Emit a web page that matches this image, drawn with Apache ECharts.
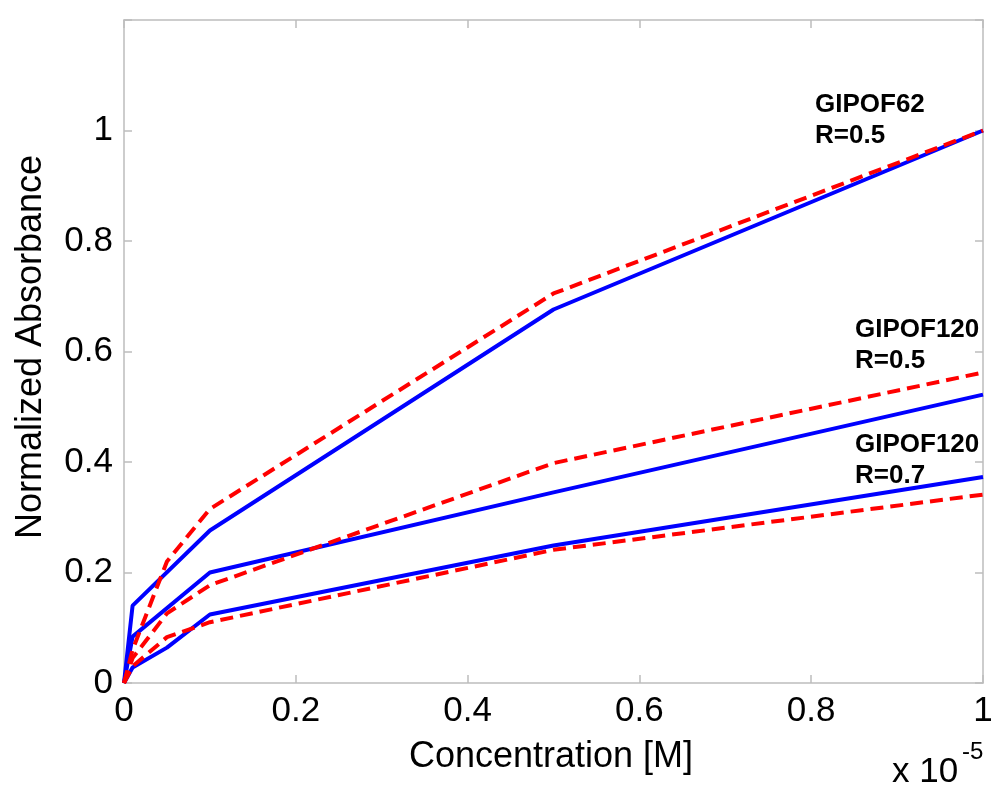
<!DOCTYPE html>
<html><head><meta charset="utf-8">
<script src="https://cdn.jsdelivr.net/npm/echarts@6/dist/echarts.min.js"></script>
<style>html,body{margin:0;padding:0;background:#fff}#c{width:1000px;height:790px}</style>
</head><body><div id="c"></div>
<script>
// Concentration in units of 1e-5 M
const blue62 = [[0,0],[0.01,0.14],[0.1,0.276],[0.5,0.676],[1,1.0]];
const red62 = [[0,0],[0.01,0.06],[0.05,0.22],[0.1,0.315],[0.5,0.705],[1,1.0]];
const blue120a = [[0,0],[0.01,0.084],[0.1,0.2],[0.5,0.345],[1,0.522]];
const red120a = [[0,0],[0.01,0.045],[0.05,0.126],[0.1,0.177],[0.5,0.398],[1,0.562]];
const blue120b = [[0,0],[0.01,0.028],[0.05,0.064],[0.1,0.124],[0.5,0.249],[1,0.373]];
const red120b = [[0,0],[0.01,0.03],[0.05,0.083],[0.1,0.11],[0.5,0.241],[1,0.341]];
const xTicks = [0,0.2,0.4,0.6,0.8,1];
const yTicks = [0,0.2,0.4,0.6,0.8,1];
const labels = [
  {text:'GIPOF62\nR=0.5', x:815, y:89},
  {text:'GIPOF120\nR=0.5', x:855, y:314},
  {text:'GIPOF120\nR=0.7', x:855, y:429}
];
const FONT = 'Liberation Sans, Arial, sans-serif';
const chart = echarts.init(document.getElementById('c'));
const solid = (d)=>({type:'line',data:d,symbol:'none',lineStyle:{color:'#0000ff',width:4},itemStyle:{color:'#0000ff'},z:3});
const dashed = (d)=>({type:'line',data:d,symbol:'none',lineStyle:{color:'#ff0000',width:4,type:[13,7]},itemStyle:{color:'#ff0000'},z:4});
const tickFmt = v => (Math.abs(v-Math.round(v))<1e-9? String(Math.round(v)) : String(+v.toFixed(1)));
const axisCommon = () => ({
  min:0, axisLine:{show:true,onZero:false,lineStyle:{color:'#bdbdbd',width:1.5}},
  axisTick:{show:true,inside:true,length:8,lineStyle:{color:'#bdbdbd',width:1.5}},
  splitLine:{show:false}
});
chart.setOption({
  animation:false,
  grid:{left:124,right:17,top:20,bottom:107},
  xAxis:[
    Object.assign({type:'value',max:1,interval:0.2,position:'bottom',
      axisLabel:{fontSize:35,color:'#000',fontFamily:FONT,margin:11,formatter:tickFmt}},axisCommon()),
    Object.assign({type:'value',max:1,interval:0.2,position:'top',axisLabel:{show:false}},axisCommon())
  ],
  yAxis:[
    Object.assign({type:'value',max:1.2,interval:0.2,position:'left',
      axisLabel:{fontSize:35,color:'#000',fontFamily:FONT,margin:11,
        formatter:v=> v>1.05 ? '' : tickFmt(v)}},axisCommon()),
    Object.assign({type:'value',max:1.2,interval:0.2,position:'right',axisLabel:{show:false}},axisCommon())
  ],
  series:[solid(blue62),dashed(red62),solid(blue120a),dashed(red120a),solid(blue120b),dashed(red120b)],
  graphic:[
    {type:'text',x:551,y:757,style:{text:'Concentration [M]',font:'36px '+FONT,fill:'#000',textAlign:'center',textVerticalAlign:'middle'}},
    {type:'text',x:31,y:347,rotation:Math.PI/2,style:{text:'Normalized Absorbance',font:'36px '+FONT,fill:'#000',textAlign:'center',textVerticalAlign:'middle'}},
    {type:'text',x:892,y:772,style:{text:'x 10',font:'35px '+FONT,fill:'#000',textAlign:'left',textVerticalAlign:'middle'}},
    {type:'text',x:962,y:752,style:{text:'-5',font:'24px '+FONT,fill:'#000',textAlign:'left',textVerticalAlign:'middle'}}
  ].concat(labels.map(l=>({type:'text',x:l.x,y:l.y,style:{text:l.text,font:'bold 26px '+FONT,fill:'#000',lineHeight:31}})))
});
</script></body></html>
